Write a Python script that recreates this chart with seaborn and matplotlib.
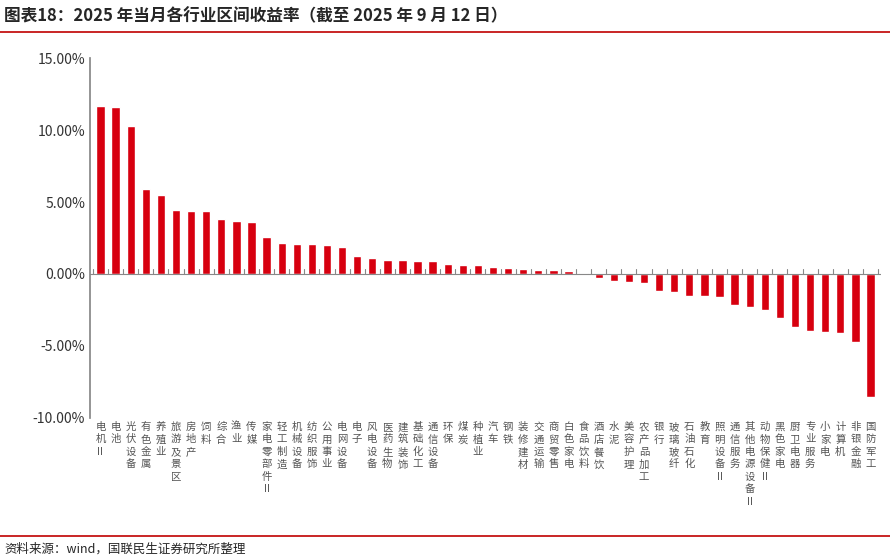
import matplotlib
matplotlib.use("Agg")
import matplotlib.pyplot as plt
import seaborn as sns
import pandas as pd
from matplotlib.ticker import FuncFormatter

sns.set_theme(style="white")
plt.rcParams['font.family'] = ['Noto Sans CJK SC', 'DejaVu Sans']

industries = ["电机II", "电池", "光伏设备", "有色金属", "养殖业", "旅游及景区", "房地产", "饲料", "综合", "渔业",
              "传媒", "家电零部件II", "轻工制造", "机械设备", "纺织服饰", "公用事业", "电网设备", "电子", "风电设备",
              "医药生物", "建筑装饰", "基础化工", "通信设备", "环保", "煤炭", "种植业", "汽车", "钢铁", "装修建材",
              "交通运输", "商贸零售", "白色家电", "食品饮料", "酒店餐饮", "水泥", "美容护理", "农产品加工", "银行",
              "玻璃玻纤", "石油石化", "教育", "照明设备II", "通信服务", "其他电源设备II", "动物保健II", "黑色家电",
              "厨卫电器", "专业服务", "小家电", "计算机", "非银金融", "国防军工"]
returns = [11.7, 11.6, 10.3, 5.9, 5.5, 4.45, 4.4, 4.4, 3.85, 3.7,
           3.6, 2.6, 2.15, 2.1, 2.05, 2.0, 1.9, 1.25, 1.1,
           1.0, 0.95, 0.9, 0.9, 0.7, 0.6, 0.6, 0.45, 0.4, 0.35,
           0.25, 0.25, 0.2, 0.1, -0.28, -0.46, -0.58, -0.62, -1.16,
           -1.27, -1.53, -1.53, -1.62, -2.13, -2.27, -2.52, -3.06,
           -3.68, -4.0, -4.03, -4.14, -4.7, -8.59]


def vertical_label(name):
    parts = []
    s = name
    while s:
        if s.startswith("II"):
            parts.append("II")
            s = s[2:]
        else:
            parts.append(s[0])
            s = s[1:]
    return "\n".join(parts)


df = pd.DataFrame({"行业": industries, "收益率": returns})

fig = plt.figure(figsize=(8.9, 5.6), dpi=100)
ax = fig.add_axes([0.101, 0.254, 0.889, 0.642])
sns.barplot(data=df, x="行业", y="收益率", color="#d7000f", saturation=1, width=0.55, ax=ax)

ax.set_ylim(-10, 15)
ax.set_xlim(-0.7, len(industries) - 0.3)
ax.set_yticks([-10, -5, 0, 5, 10, 15])
ax.yaxis.set_major_formatter(FuncFormatter(lambda v, p: f"{v:.2f}%"))
ax.tick_params(axis="y", labelsize=10, colors="#333333", length=0)
ax.set_xlabel("")
ax.set_ylabel("")
ax.set_xticks(range(len(industries)))
ax.set_xticklabels([])
for sp in ["top", "right", "bottom"]:
    ax.spines[sp].set_visible(False)
ax.spines["left"].set_color("#888888")
ax.axhline(0, color="#888888", linewidth=0.8)
for i in range(len(industries) + 1):
    ax.plot([i - 0.5, i - 0.5], [0, 0.35], color="#888888", linewidth=0.8)

trans = ax.get_xaxis_transform()
for i, name in enumerate(industries):
    ax.text(i, -0.012, vertical_label(name), transform=trans, ha="center", va="top",
            fontsize=7.5, color="#555555", linespacing=1.3)

fig.text(0.005, 0.97, "图表18：2025 年当月各行业区间收益率（截至 2025 年 9 月 12 日）",
         fontsize=12, fontweight="bold", ha="left", va="center")
fig.add_artist(plt.Line2D([0.0, 1.0], [0.942, 0.942], color="#c00000", linewidth=1.2))
fig.add_artist(plt.Line2D([0.0, 1.0], [0.043, 0.043], color="#c00000", linewidth=1.2))
fig.text(0.005, 0.02, "资料来源：wind，国联民生证券研究所整理", fontsize=9, ha="left", va="center")

fig.savefig("out.png", dpi=100)
